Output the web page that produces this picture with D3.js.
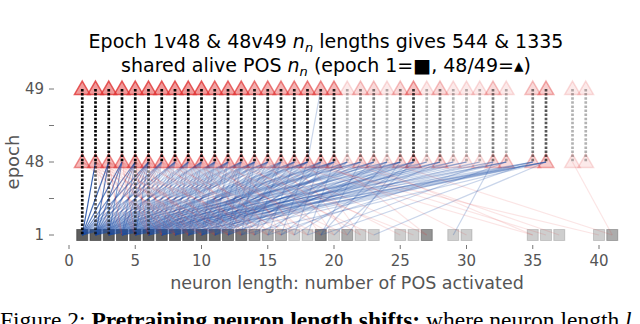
<!DOCTYPE html>
<html><head><meta charset="utf-8">
<script src="https://cdn.jsdelivr.net/npm/d3@7"></script>
<style>body{margin:0;background:#fff}svg{display:block}</style>
</head><body><svg id="c" width="640" height="324"></svg>
<script>
// ---------- data ----------
const xTicks = [0,5,10,15,20,25,30,35,40];
const yTickLabels = ["1","","48","","49"];   // row index 0..4
const rowOf = {1:0, 48:2, 49:4};

// epoch 1 neuron lengths (squares) and number of neurons
const sqLen   = [1,2,3,4,5,6,7,8,9,10,11,12,13,14,15,16,17,18,19,20,21,22,23,25,26,27,29,30,35,36,37,40,41];
const sqCount = [30,25,22,20,18,16,14,12,10,9,8,5,5,3,2,2,1,1,4,1,2,1,1,1,1,3,1,1,1,1,1,1,2];

// epoch 48 / 49 lengths (triangles)
const triLen   = [1,2,3,4,5,6,7,8,9,10,11,12,13,14,15,16,17,18,19,20,21,22,23,24,25,26,27,28,29,30,31,32,33,35,36,38,39];
const tri49Count = [20,20,20,20,20,20,20,20,20,20,10,10,10,7,7,6,6,6,5,5,1,2,2,1,2,4,1,2,1,1,1,2,1,2,3,1,1];
const tri48Count = [5,5,5,5,5,5,5,5,5,5,4,4,4,3,3,3,3,3,3,3,1,2,2,1,2,3,1,2,1,1,1,2,2,2,3,1,1];

// neurons keeping the same length 48 -> 49 (dotted)
const same4849Count = [12,12,10,12,12,12,12,12,12,12,7,7,8,6,6,6,6,6,5,5,1,2,2,1,2,4,1,2,1,1,1,2,1,2,3,1,1];
// neurons keeping the same length 1 -> 48 (dotted)
const same148Len   = [1,2,3,5,6];
const same148Count = [8,3,3,3,2];

// length changes epoch 1 -> 48: [from, to, count]
const changes1to48 = [
 [1,2,8],[1,3,6],[1,4,5],[1,5,4],[1,6,3],[1,7,2],[1,8,2],[1,9,1],[1,10,1],[1,11,1],[1,12,1],[1,13,1],[1,14,1],[1,15,1],[1,16,1],[1,18,1],[1,20,1],[1,22,1],[1,25,1],
 [2,3,5],[2,4,4],[2,5,3],[2,6,3],[2,7,2],[2,8,2],[2,9,1],[2,10,2],[2,11,1],[2,12,1],[2,13,1],[2,14,1],[2,15,1],[2,17,1],[2,18,1],[2,20,1],[2,22,1],[2,24,1],[2,26,1],[2,30,1],
 [3,4,3],[3,5,2],[3,6,2],[3,7,2],[3,8,1],[3,9,2],[3,10,1],[3,11,1],[3,12,1],[3,13,1],[3,14,1],[3,15,1],[3,17,1],[3,18,1],[3,20,1],[3,22,1],[3,24,1],[3,27,1],[3,29,1],[3,32,1],[3,35,1],[3,2,1],
 [4,5,2],[4,6,2],[4,7,1],[4,8,1],[4,9,1],[4,10,1],[4,11,1],[4,12,1],[4,13,1],[4,14,1],[4,16,1],[4,18,1],[4,19,1],[4,21,1],[4,23,1],[4,25,1],[4,28,1],[4,31,1],[4,33,1],[4,36,1],[4,2,1],[4,3,2],
 [5,6,2],[5,7,1],[5,8,1],[5,9,1],[5,10,1],[5,11,1],[5,12,1],[5,14,1],[5,15,1],[5,17,1],[5,18,1],[5,20,1],[5,21,1],[5,23,1],[5,25,1],[5,28,1],[5,30,1],[5,33,1],[5,36,1],[5,2,1],[5,3,1],[5,4,2],
 [6,7,1],[6,8,1],[6,9,1],[6,10,1],[6,11,1],[6,12,1],[6,13,1],[6,14,1],[6,16,1],[6,17,1],[6,19,1],[6,20,1],[6,23,1],[6,26,1],[6,29,1],[6,32,1],[6,35,1],[6,3,1],[6,4,1],[6,5,2],
 [7,8,1],[7,9,1],[7,10,1],[7,11,1],[7,12,1],[7,13,1],[7,15,1],[7,16,1],[7,18,1],[7,19,1],[7,21,1],[7,22,1],[7,25,1],[7,27,1],[7,30,1],[7,33,1],[7,36,1],[7,2,1],[7,4,1],[7,5,1],[7,6,1],
 [8,9,1],[8,10,1],[8,11,1],[8,12,1],[8,14,1],[8,15,1],[8,17,1],[8,18,1],[8,20,1],[8,22,1],[8,24,1],[8,26,1],[8,28,1],[8,35,1],[8,36,1],[8,1,1],[8,3,1],[8,5,1],[8,6,1],
 [9,10,1],[9,11,1],[9,13,1],[9,14,1],[9,16,1],[9,17,1],[9,19,1],[9,20,1],[9,23,1],[9,25,1],[9,28,1],[9,31,1],[9,36,1],[9,2,1],[9,4,1],[9,6,1],[9,7,1],
 [10,11,1],[10,12,1],[10,13,1],[10,15,1],[10,16,1],[10,18,1],[10,19,1],[10,21,1],[10,23,1],[10,26,1],[10,29,1],[10,33,1],[10,1,1],[10,3,1],[10,5,1],[10,8,1],
 [11,12,1],[11,13,1],[11,14,1],[11,16,1],[11,18,1],[11,20,1],[11,21,1],[11,24,1],[11,26,1],[11,35,1],[11,2,1],[11,4,1],[11,7,1],[11,9,1],
 [12,13,1],[12,14,1],[12,15,1],[12,17,1],[12,19,1],[12,22,1],[12,25,1],[12,27,1],[12,3,1],[12,5,1],[12,8,1],[12,10,1],
 [13,14,1],[13,16,1],[13,20,1],[13,24,1],[13,36,1],[13,1,1],[13,6,1],[13,9,1],[13,11,1],
 [14,16,1],[14,19,1],[14,25,1],[14,2,1],[14,7,1],[14,10,1],[14,12,1],
 [15,17,1],[15,21,1],[15,32,1],[15,4,1],[15,8,1],[15,12,1],
 [16,18,1],[16,23,1],[16,28,1],[16,3,1],[16,9,1],[16,13,1],
 [17,19,1],[17,26,1],[17,5,1],[17,11,1],[17,14,1],
 [18,20,1],[18,33,1],[18,6,1],[18,12,1],
 [19,22,1],[19,24,1],[19,35,1],[19,7,1],[19,15,1],
 [20,26,1],[20,10,1],[20,16,1],
 [21,25,1],[21,9,1],[21,17,1],
 [22,13,1],[22,18,1],
 [23,36,1],[23,11,1],
 [25,14,1],[26,12,1],[27,15,1],[27,20,1],[29,32,1],[30,19,1],
 [35,16,1],[35,22,1],[36,18,1],[37,21,1],[40,17,1],[41,38,1],[41,24,1]
];
// length changes epoch 48 -> 49
const changes48to49 = [[18,19,1]];

// ---------- drawing ----------
const svg = d3.select("#c");
svg.append("rect").attr("width",640).attr("height",324).attr("fill","#fff");

const x = d3.scaleLinear().domain([0,40]).range([69,599]);
const y = d3.scaleLinear().domain([0,4]).range([235,89]);
const stack = (a,c) => 1 - Math.pow(1-a, c);

const BLUE = "#1f4fa8", RED = "#e03434", GREY = "#555";
const font = "DejaVu Sans, sans-serif";

// squares (epoch 1)
const sq = 11;
svg.append("g").selectAll("rect").data(d3.zip(sqLen, sqCount)).join("rect")
  .attr("x", d => x(d[0]) - sq/2).attr("y", y(rowOf[1]) - sq/2)
  .attr("width", sq).attr("height", sq)
  .attr("fill", GREY).attr("fill-opacity", d => stack(0.3,d[1]) * 0.95)
  .attr("stroke", "#444").attr("stroke-width", 1).attr("stroke-opacity", d => stack(0.3,d[1]) * 0.7);

// triangles
const tri = d3.symbol(d3.symbolTriangle, 105);
function drawTri(counts, row, a) {
  svg.append("g").selectAll("path").data(d3.zip(triLen, counts)).join("path")
    .attr("d", tri)
    .attr("transform", d => `translate(${x(d[0])},${y(row)+1})`)
    .attr("fill", RED).attr("fill-opacity", d => stack(a,d[1]) * 0.5)
    .attr("stroke", RED).attr("stroke-width", 1.5).attr("stroke-opacity", d => stack(a,d[1]) * 0.8);
}
drawTri(tri48Count, rowOf[48], 0.2);
drawTri(tri49Count, rowOf[49], 0.2);

// change lines 1 -> 48
svg.append("g").selectAll("line").data(changes1to48).join("line")
  .attr("x1", d => x(d[0])).attr("y1", y(rowOf[1]))
  .attr("x2", d => x(d[1])).attr("y2", y(rowOf[48]))
  .attr("stroke", d => d[1] > d[0] ? BLUE : RED)
  .attr("stroke-width", 1.2)
  .attr("stroke-opacity", d => d[1] > d[0] ? stack(0.24,d[2]) : stack(0.13,d[2]));

// change lines 48 -> 49
svg.append("g").selectAll("line").data(changes48to49).join("line")
  .attr("x1", d => x(d[0])).attr("y1", y(rowOf[48]))
  .attr("x2", d => x(d[1])).attr("y2", y(rowOf[49]))
  .attr("stroke", d => d[1] > d[0] ? BLUE : RED)
  .attr("stroke-width", 1.2)
  .attr("stroke-opacity", d => stack(0.24,d[2]));

// dotted same-length lines
function dotted(lens, counts, r0, r1) {
  svg.append("g").selectAll("line").data(d3.zip(lens, counts)).join("line")
    .attr("x1", d => x(d[0])).attr("x2", d => x(d[0]))
    .attr("y1", y(r1)).attr("y2", y(r0))
    .attr("stroke", "#000").attr("stroke-width", 2.7)
    .attr("stroke-dasharray", "2.5,1.6")
    .attr("stroke-opacity", d => stack(0.3, d[1]));
}
dotted(triLen, same4849Count, rowOf[48], rowOf[49]);
dotted(same148Len, same148Count, rowOf[1], rowOf[48]);

// axes (ticks only, no spines)
const axG = svg.append("g");
axG.selectAll("line.xt").data(xTicks).join("line").attr("class","xt")
  .attr("x1", d => x(d)).attr("x2", d => x(d)).attr("y1", 245).attr("y2", 249)
  .attr("stroke", "#777").attr("stroke-width", 1);
axG.selectAll("text.xl").data(xTicks).join("text").attr("class","xl")
  .attr("x", d => x(d)).attr("y", 266).attr("text-anchor","middle")
  .attr("font-family", font).attr("font-size", 15).attr("fill", "#555")
  .text(d => d);
axG.selectAll("line.yt").data(yTickLabels).join("line").attr("class","yt")
  .attr("x1", 49).attr("x2", 54).attr("y1", (d,i) => y(i)).attr("y2", (d,i) => y(i))
  .attr("stroke", "#777").attr("stroke-width", 1);
axG.selectAll("text.yl").data(yTickLabels).join("text").attr("class","yl")
  .attr("x", 44).attr("y", (d,i) => y(i) + 5).attr("text-anchor","end")
  .attr("font-family", font).attr("font-size", 15).attr("fill", "#555")
  .text(d => d);

svg.append("text").attr("x", 347).attr("y", 289).attr("text-anchor","middle")
  .attr("font-family", font).attr("font-size", 17.5).attr("fill", "#555")
  .text("neuron length: number of POS activated");
svg.append("text").attr("transform","translate(19,162) rotate(-90)").attr("text-anchor","middle")
  .attr("font-family", font).attr("font-size", 18).attr("fill", "#555")
  .text("epoch");

// title
function titleLine(yy, parts) {
  const t = svg.append("text").attr("x", 326).attr("y", yy).attr("text-anchor","middle")
    .attr("font-family", font).attr("font-size", 19).attr("fill", "#000");
  parts.forEach(p => {
    const s = t.append("tspan").text(p.t);
    if (p.i) s.attr("font-style","italic");
    if (p.sub) s.attr("font-size", 13).attr("font-style","italic").attr("dy", 3.5);
    if (p.up) s.attr("dy", -3.5);
  });
}
titleLine(48, [{t:"Epoch 1v48 & 48v49 "},{t:"n",i:1},{t:"n",sub:1},{t:" lengths gives 544 & 1335",up:1}]);
titleLine(72, [{t:"shared alive POS "},{t:"n",i:1},{t:"n",sub:1},{t:" (epoch 1=■, 48/49=▴)",up:1}]);

// caption (cut off by page, as in the source figure)
const cap = svg.append("text").attr("x", 0).attr("y", 328)
  .attr("font-family", "Liberation Serif, Times New Roman, serif").attr("font-size", 23.5).attr("fill","#000");
cap.append("tspan").text("Figure 2: ");
cap.append("tspan").attr("font-weight","bold").text("Pretraining neuron length shifts:");
cap.append("tspan").text(" where neuron length ");
cap.append("tspan").attr("font-style","italic").text("l");
</script></body></html>
